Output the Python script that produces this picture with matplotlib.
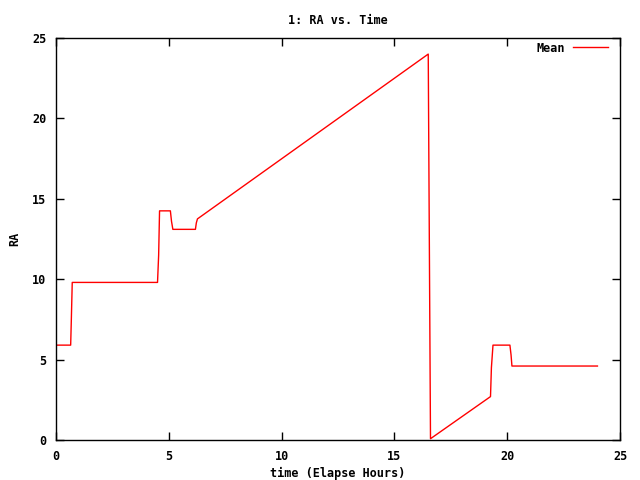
import matplotlib
matplotlib.use("Agg")
import matplotlib.pyplot as plt

time_hours = [0.0, 0.65, 0.68, 0.72, 4.50, 4.55, 4.59, 5.07, 5.12, 5.18, 6.18, 6.22, 6.27,
              16.50, 16.55, 16.60, 19.26, 19.30, 19.37, 20.12, 20.17, 20.21, 24.0]
ra_mean = [5.9, 5.9, 7.5, 9.8, 9.8, 11.5, 14.25, 14.25, 13.6, 13.1, 13.1, 13.5, 13.75,
           24.0, 12.0, 0.08, 2.7, 4.5, 5.9, 5.9, 5.3, 4.6, 4.6]

font = {'family': 'DejaVu Sans Mono', 'weight': 'bold', 'size': 8.5}

fig = plt.figure(figsize=(6.4, 4.8), dpi=100)
ax = fig.add_axes([56/640, 40/480, 564/640, 402/480])
ax.plot(time_hours, ra_mean, color='#ff0000', linewidth=1.0, label='Mean')
ax.set_xlim(0, 25)
ax.set_ylim(0, 25)
ax.set_xticks([0, 5, 10, 15, 20, 25])
ax.set_yticks([0, 5, 10, 15, 20, 25])
ax.tick_params(direction='in', top=True, right=True, length=6, width=1, pad=7)
for lbl in ax.get_xticklabels() + ax.get_yticklabels():
    lbl.set_fontfamily('DejaVu Sans Mono')
    lbl.set_fontweight('bold')
    lbl.set_fontsize(8.5)
for s in ax.spines.values():
    s.set_linewidth(1.0)
ax.set_title('1: RA vs. Time', fontdict=font, pad=10)
ax.set_xlabel('time (Elapse Hours)', fontdict=font, labelpad=3)
ax.set_ylabel('RA', fontdict=font, labelpad=8)
leg = ax.legend(loc='upper right', frameon=False, prop={'family': 'DejaVu Sans Mono', 'weight': 'bold', 'size': 8.5},
                markerfirst=False, handlelength=3.0, handletextpad=0.6,
                bbox_to_anchor=(0.985, 1.0), borderaxespad=0.1, borderpad=0.2)
fig.savefig('out.png', dpi=100)
